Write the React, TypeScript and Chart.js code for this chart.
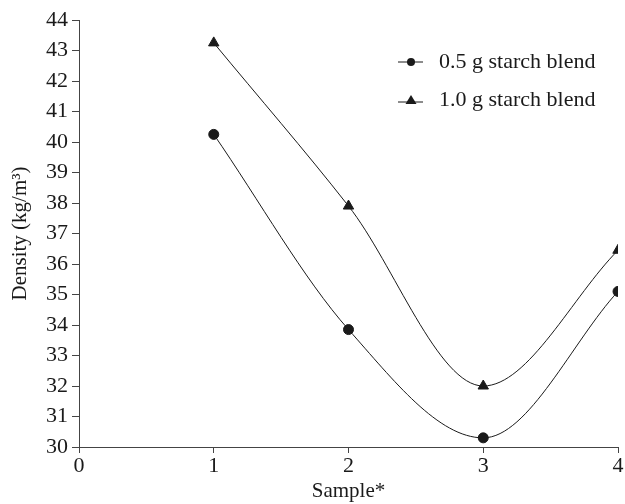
import React, { useEffect, useRef } from "react";
import { Chart, registerables } from "chart.js";

Chart.register(...registerables);

const samples = [1, 2, 3, 4];
const blend05 = [40.25, 33.85, 30.3, 35.1];
const blend10 = [43.25, 37.9, 32.0, 36.45];
const seriesLabels = ["0.5 g starch blend", "1.0 g starch blend"];
const xTitle = "Sample*";
const yTitle = "Density (kg/m³)";

const FONT = "'Liberation Serif', 'DejaVu Serif', serif";
const INK = "#1a1a1a";

const legendPlugin = {
  id: "insideLegend",
  afterDraw(chart: any) {
    const ctx = chart.ctx;
    const styles = ["circle", "triangle"];
    const rows = [62, 100];
    ctx.save();
    rows.forEach((y, i) => {
      const ly = y + (i === 1 ? 2 : 0);
      ctx.strokeStyle = INK;
      ctx.lineWidth = 1;
      ctx.beginPath();
      ctx.moveTo(398, ly);
      ctx.lineTo(423, ly);
      ctx.stroke();
      ctx.fillStyle = INK;
      ctx.beginPath();
      if (styles[i] === "circle") {
        ctx.arc(411, y, 4, 0, Math.PI * 2);
      } else {
        ctx.moveTo(411, y - 5);
        ctx.lineTo(416.5, y + 4);
        ctx.lineTo(405.5, y + 4);
        ctx.closePath();
      }
      ctx.fill();
      ctx.font = "22px " + FONT;
      ctx.textBaseline = "middle";
      ctx.textAlign = "left";
      ctx.fillText(seriesLabels[i], 439, y);
    });
    ctx.restore();
  },
};

export default function App() {
  const ref = useRef<HTMLCanvasElement>(null);
  useEffect(() => {
    document.body.style.margin = "0";
    const chart = new Chart(ref.current!, {
      type: "line",
      data: {
        labels: samples,
        datasets: [
          {
            label: seriesLabels[0],
            data: samples.map((s, i) => ({ x: s, y: blend05[i] })),
            borderColor: INK,
            backgroundColor: INK,
            borderWidth: 1,
            pointStyle: "circle",
            pointRadius: 5,
            cubicInterpolationMode: "monotone",
          },
          {
            label: seriesLabels[1],
            data: samples.map((s, i) => ({ x: s, y: blend10[i] })),
            borderColor: INK,
            backgroundColor: INK,
            borderWidth: 1,
            pointStyle: "triangle",
            pointRadius: 6,
            cubicInterpolationMode: "monotone",
          },
        ],
      },
      options: {
        animation: false,
        responsive: false,
        layout: { padding: { left: 0, right: 4, top: 20, bottom: 0 } },
        plugins: { legend: { display: false }, tooltip: { enabled: false } },
        scales: {
          x: {
            type: "linear",
            min: 0,
            max: 4,
            ticks: { stepSize: 1, color: INK, font: { family: FONT, size: 22 }, padding: 0, maxRotation: 0 },
            grid: { drawOnChartArea: false, drawTicks: true, tickLength: 6, color: "#444" },
            border: { color: "#444", width: 1 },
            title: { display: true, text: xTitle, color: INK, font: { family: FONT, size: 21 }, padding: { top: 0, bottom: 0 } },
            afterFit: (s: any) => { s.height = 57; },
          },
          y: {
            min: 30,
            max: 44,
            ticks: { stepSize: 1, color: INK, font: { family: FONT, size: 22 }, padding: 4 },
            grid: { drawOnChartArea: false, drawTicks: true, tickLength: 7, color: "#444" },
            border: { color: "#444", width: 1 },
            title: { display: true, text: yTitle, color: INK, font: { family: FONT, size: 21 }, padding: { top: 8, bottom: 0 } },
            afterFit: (s: any) => { s.width = 79; },
          },
        },
      },
      plugins: [legendPlugin],
    });
    return () => chart.destroy();
  }, []);
  return <canvas ref={ref} width={625} height={504} style={{ display: "block" }} />;
}
